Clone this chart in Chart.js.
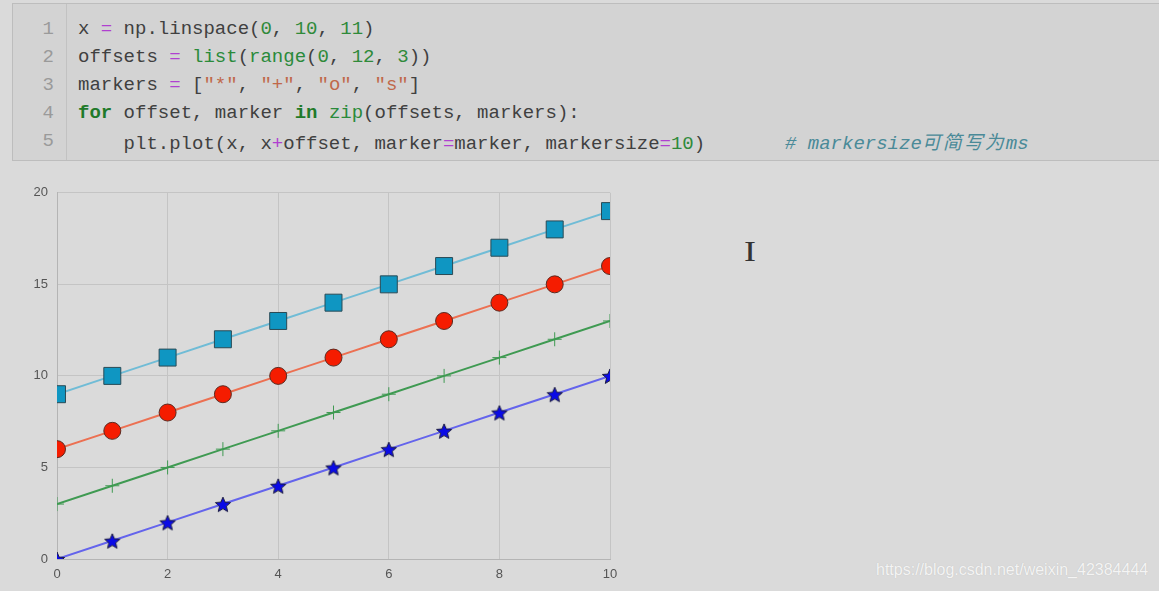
<!DOCTYPE html>
<html>
<head>
<meta charset="utf-8">
<script src="https://cdn.jsdelivr.net/npm/chart.js@4.4.1/dist/chart.umd.min.js"></script>
<style>
    html, body { margin: 0; padding: 0; }
    body { width: 1159px; height: 591px; background: #dadada; position: relative; overflow: hidden; }
    .cell { position: absolute; left: 12px; top: 3px; width: 1160px; height: 156px; background: #d3d3d3; border: 1px solid #bdbdbd; }
    .gutter { position: absolute; left: 0; top: 0; width: 54px; height: 156px; border-right: 1px solid #c2c2c2; }
    .gutter div { text-align: right; padding-right: 12px; }
    .code, .gutter { font-family: "Liberation Mono", "DejaVu Sans Mono", monospace; font-size: 19px; line-height: 28px; color: #404040; padding-top: 11px; box-sizing: border-box; }
    .gutter { color: #9a9a9a; }
    .code { position: absolute; left: 65px; top: 0; white-space: pre; }
    .o { color: #b040d0; }
    .n { color: #2f8a3a; }
    .b { color: #2a8a3a; }
    .k { color: #1f7a2a; font-weight: bold; }
    .s { color: #c0684a; }
    .c { color: #4a8a98; font-style: italic; }
    .c .cjk { font-family: "Noto Sans CJK SC", sans-serif; letter-spacing: 2px; }
    #wrap { position: absolute; left: 0; top: 176px; width: 640px; height: 415px; }
    .cursor { position: absolute; left: 745px; top: 234px; font-family: "Liberation Serif", serif; font-size: 30px; color: #333; transform: scaleX(1.2); }
    .mark { position: absolute; left: 876px; top: 561px; font-family: "Liberation Sans", Arial, sans-serif; font-size: 16px; color: #f4f4f4; text-shadow: 0 0 1px #bbb; }
</style>
</head>
<body>
<div class="cell">
    <div class="gutter"><div>1</div><div>2</div><div>3</div><div>4</div><div>5</div></div>
    <div class="code"><div>x <span class="o">=</span> np.linspace(<span class="n">0</span>, <span class="n">10</span>, <span class="n">11</span>)</div><div>offsets <span class="o">=</span> <span class="b">list</span>(<span class="b">range</span>(<span class="n">0</span>, <span class="n">12</span>, <span class="n">3</span>))</div><div>markers <span class="o">=</span> [<span class="s">"*"</span>, <span class="s">"+"</span>, <span class="s">"o"</span>, <span class="s">"s"</span>]</div><div><span class="k">for</span> offset, marker <span class="k">in</span> <span class="b">zip</span>(offsets, markers):</div><div>    plt.plot(x, x<span class="o">+</span>offset, marker<span class="o">=</span>marker, markersize<span class="o">=</span><span class="n">10</span>)       <span class="c"># markersize<span class="cjk">可简写为</span>ms</span></div></div>
</div>
<div id="wrap"><canvas id="chart"></canvas></div>
<div class="cursor">I</div>
<div class="mark">https://blog.csdn.net/weixin_42384444</div>
<script>
// 数据
var xValues = [0, 1, 2, 3, 4, 5, 6, 7, 8, 9, 10];
var starValues = [0, 1, 2, 3, 4, 5, 6, 7, 8, 9, 10];
var plusValues = [3, 4, 5, 6, 7, 8, 9, 10, 11, 12, 13];
var circleValues = [6, 7, 8, 9, 10, 11, 12, 13, 14, 15, 16];
var squareValues = [9, 10, 11, 12, 13, 14, 15, 16, 17, 18, 19];
var xTicks = [0, 2, 4, 6, 8, 10];
var yTicks = [0, 5, 10, 15, 20];

// 五角星图形
function makeStar(size, fill, stroke) {
    var c = document.createElement('canvas');
    c.width = size; c.height = size;
    var ctx = c.getContext('2d');
    var cx = size / 2, cy = size / 2 + 1, R = size / 2 - 1, r = R * 0.45;
    ctx.beginPath();
    for (var i = 0; i < 10; i++) {
        var rad = (i % 2 === 0) ? R : r;
        var a = -Math.PI / 2 + i * Math.PI / 5;
        ctx.lineTo(cx + rad * Math.cos(a), cy + rad * Math.sin(a));
    }
    ctx.closePath();
    ctx.fillStyle = fill; ctx.fill();
    ctx.lineWidth = 1; ctx.strokeStyle = stroke; ctx.stroke();
    return c;
}

function toPoints(ys) {
    return xValues.map(function (x, i) { return { x: x, y: ys[i] }; });
}

var starImg = makeStar(18, '#0a0ae6', '#1a1a40');

var data = {
    datasets: [{
        label: '*',
        data: toPoints(starValues),
        borderColor: '#6464ec',
        borderWidth: 2,
        pointStyle: starImg,
        pointRadius: 9,
    }, {
        label: '+',
        data: toPoints(plusValues),
        borderColor: '#3f9a52',
        borderWidth: 2,
        pointStyle: 'cross',
        pointRadius: 7,
        pointBorderColor: '#3f9a52',
        pointBorderWidth: 1,
    }, {
        label: 'o',
        data: toPoints(circleValues),
        borderColor: '#ec7052',
        borderWidth: 2,
        pointStyle: 'circle',
        pointRadius: 8.5,
        pointBackgroundColor: '#f51c00',
        pointBorderColor: '#5a2a20',
        pointBorderWidth: 1,
    }, {
        label: 's',
        data: toPoints(squareValues),
        borderColor: '#70bcd6',
        borderWidth: 2,
        pointStyle: 'rect',
        pointRadius: 12,
        pointBackgroundColor: '#0f96c2',
        pointBorderColor: '#2a4a55',
        pointBorderWidth: 1,
    }]
};

var tickFont = { family: '"Liberation Sans", Arial, sans-serif', size: 13 };

var config = {
    type: 'line',
    data: data,
    options: {
        responsive: true,
        maintainAspectRatio: false,
        animation: false,
        events: [],
        layout: { padding: { top: 10, right: 30, left: 0, bottom: 0 }, autoPadding: false },
        plugins: { legend: { display: false }, tooltip: { enabled: false } },
        elements: { line: { tension: 0 } },
        scales: {
            x: {
                type: 'linear', min: 0, max: 10,
                afterBuildTicks: function (s) { s.ticks = xTicks.map(function (v) { return { value: v }; }); },
                afterFit: function (s) { s.height = 32; },
                grid: { color: '#c4c4c4', drawTicks: false },
                border: { color: '#b4b4b4' },
                ticks: { color: '#555', font: tickFont, padding: 8, maxRotation: 0 }
            },
            y: {
                type: 'linear', min: 0, max: 20,
                afterBuildTicks: function (s) { s.ticks = yTicks.map(function (v) { return { value: v }; }); },
                afterFit: function (s) { s.width = 57; },
                grid: { color: '#c4c4c4', drawTicks: false },
                border: { color: '#b4b4b4' },
                ticks: { color: '#555', font: tickFont, padding: 9 }
            }
        }
    }
};

var myChart = new Chart(document.getElementById('chart'), config);
</script>
</body>
</html>
